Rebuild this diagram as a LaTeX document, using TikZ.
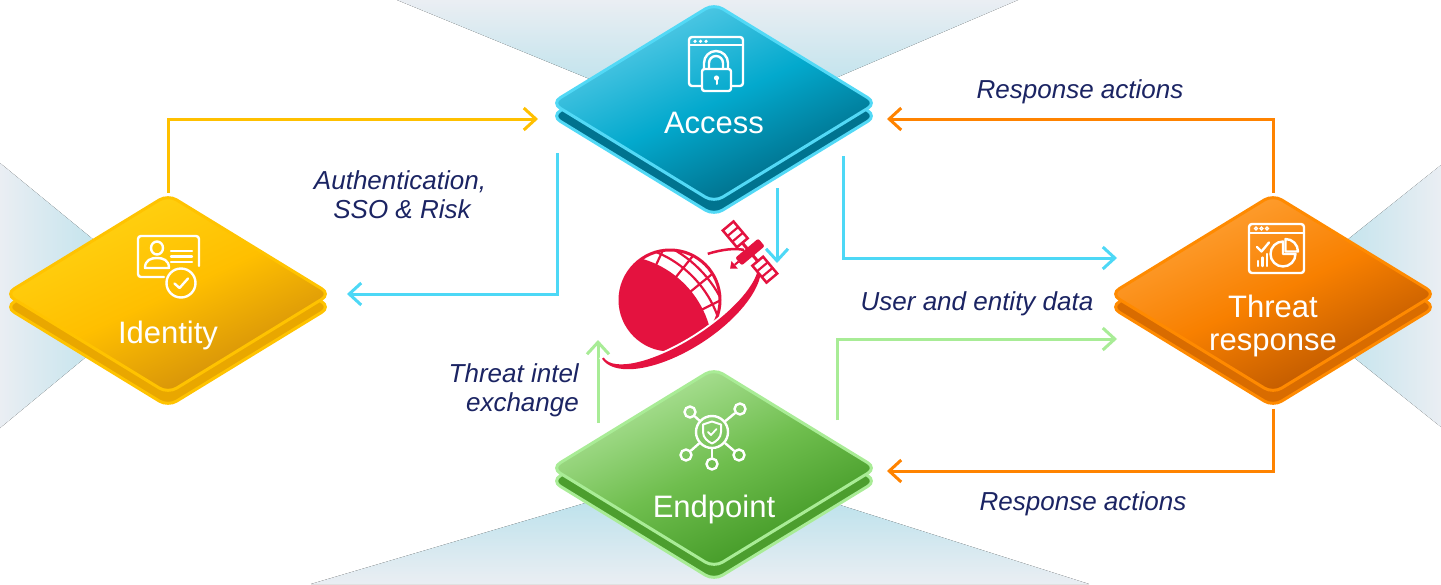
\documentclass[tikz,border=0pt]{standalone}
\usepackage{fontspec}
\setmainfont{Liberation Sans}
\usetikzlibrary{shapes.geometric,arrows.meta,calc}

\definecolor{navy}{HTML}{1B2463}
\definecolor{gold}{HTML}{FFC000}
\definecolor{sky}{HTML}{4DD8F6}
\definecolor{tang}{HTML}{FF8300}
\definecolor{mint}{HTML}{A8EC96}
\definecolor{logored}{HTML}{E4123F}
\definecolor{hazeA}{HTML}{EAEEF3}
\definecolor{hazeB}{HTML}{AADDE9}
% tile palettes: light, mid, dark, lower layer, edge
\definecolor{accA}{HTML}{62CFEA}\definecolor{accB}{HTML}{03A9CD}\definecolor{accC}{HTML}{00627C}
\definecolor{accBase}{HTML}{00738F}\definecolor{accEdge}{HTML}{52D9F6}
\definecolor{idnA}{HTML}{FFD414}\definecolor{idnB}{HTML}{FFBF00}\definecolor{idnC}{HTML}{CC880C}
\definecolor{idnBase}{HTML}{E9A700}\definecolor{idnEdge}{HTML}{FFC300}
\definecolor{thrA}{HTML}{FFA43A}\definecolor{thrB}{HTML}{F88000}\definecolor{thrC}{HTML}{B45200}
\definecolor{thrBase}{HTML}{D96C00}\definecolor{thrEdge}{HTML}{FF8A00}
\definecolor{endA}{HTML}{B6E7A2}\definecolor{endB}{HTML}{6FBE4E}\definecolor{endC}{HTML}{3A921E}
\definecolor{endBase}{HTML}{4C9E2E}\definecolor{endEdge}{HTML}{A9EC96}

\pgfdeclarelayer{backdrop}
\pgfdeclarelayer{wires}
\pgfsetlayers{backdrop,wires,main}

\tikzset{
  flowline/.style={line width=3pt, -{Straight Barb[length=12pt,width=22pt]}},
  tagtext/.style={font=\fontsize{26}{31}\selectfont\itshape, text=navy, inner sep=0pt},
  tiletext/.style={font=\fontsize{31}{35}\selectfont, text=white, inner sep=0pt},
  tile/.style={diamond, minimum width=326pt, minimum height=200pt, inner sep=0pt,
    rounded corners=10pt, line width=3pt},
  glyph/.style={draw=white, line width=2.4pt, line cap=round, line join=round},
  hubdot/.style={circle, draw=white, line width=2.4pt, inner sep=0pt, minimum size=11pt},
  ringband/.style={x radius=#1},
}

\begin{document}
\begin{tikzpicture}[x=1pt,y=-1pt]
\useasboundingbox (0,0) rectangle (1441,584);

% ---------------- backdrop wedges ----------------
\begin{pgfonlayer}{backdrop}
  \fill[white] (0,0) rectangle (1441,584);
  \fill[top color=hazeA, bottom color=hazeB] (397,0) -- (1018,0) -- (714,130) -- cycle;
  \fill[top color=hazeB, bottom color=hazeA] (311,584) -- (1089,584) -- (714,465) -- cycle;
  \fill[left color=hazeA, right color=hazeB] (0,163) -- (161,295) -- (0,428) -- cycle;
  \fill[left color=hazeB, right color=hazeA] (1441,165) -- (1277,296) -- (1441,427) -- cycle;
\end{pgfonlayer}

% ---------------- tiles ----------------
\node[tile, fill=accBase, draw=accEdge] (acc2) at (714,116) {};
\node[tile, draw=accEdge, top color=accA, bottom color=accC, middle color=accB, shading angle=25] (acc) at (714,103) {};

\node[tile, fill=idnBase, draw=idnEdge] (idn2) at (168,307) {};
\node[tile, draw=idnEdge, top color=idnA, bottom color=idnC, middle color=idnB, shading angle=25] (idn) at (168,294) {};

\node[tile, fill=thrBase, draw=thrEdge] (thr2) at (1273,307) {};
\node[tile, draw=thrEdge, top color=thrA, bottom color=thrC, middle color=thrB, shading angle=25] (thr) at (1273,294) {};

\node[tile, fill=endBase, draw=endEdge] (endp2) at (714,481) {};
\node[tile, draw=endEdge, top color=endA, bottom color=endC, middle color=endB, shading angle=25] (endp) at (714,468) {};

% tile captions
\node[tiletext, anchor=base] (accl) at (714,133) {Access};
\node[tiletext, anchor=base] (idnl) at (168,343) {Identity};
\node[tiletext, anchor=base] (thrl) at (1273,317) {Threat};
\node[tiletext, anchor=base] (thrl2) at (1273,350) {response};
\node[tiletext, anchor=base] (endl) at (714,517) {Endpoint};

% ---------------- tile glyphs ----------------
% browser window with padlock
\draw[glyph, rounded corners=3pt] (702,86) -- (689,86) -- (689,37) -- (743,37) -- (743,86) -- (731,86);
\draw[glyph] (689,45) -- (743,45);
\fill[white] (695,41.3) circle[radius=1.8] (700.5,41.3) circle[radius=1.8] (706,41.3) circle[radius=1.8];
\draw[glyph, rounded corners=2.5pt] (702,69) rectangle (731,91);
\draw[glyph] (704,69) -- (704,63) arc[start angle=180, end angle=360, radius=12] -- (728,69);
\draw[glyph] (709,69) -- (709,63) arc[start angle=180, end angle=360, radius=7] -- (723,69);
\fill[white] (716.5,78) circle[radius=2.6];
\draw[glyph, line width=2pt] (716.5,78) -- (716.5,84);

% identity card with check badge
\draw[glyph, rounded corners=3pt] (164,277) -- (138,277) -- (138,236) -- (199,236) -- (199,266);
\draw[glyph] (157,248) ellipse[x radius=6, y radius=6.5];
\draw[glyph] (145,268) .. controls (145,260) and (151,258) .. (157,258) .. controls (163,258) and (169,260) .. (169,268) -- cycle;
\draw[glyph] (171,251) -- (192,251) (171,256.5) -- (192,256.5) (171,262) -- (192,262);
\draw[glyph] (181,283) circle[radius=14.5];
\draw[glyph] (174.5,283.5) -- (179.5,288) -- (188,278.5);

% dashboard window
\draw[glyph, rounded corners=3pt] (1249,224) rectangle (1304,273);
\draw[glyph] (1249,233) -- (1304,233);
\draw[white, line width=1.2pt] (1256,228.5) circle[radius=1.5] (1261.5,228.5) circle[radius=1.5] (1267,228.5) circle[radius=1.5];
\draw[glyph] (1257,247) -- (1261.5,251.5) -- (1269,242.5);
\draw[glyph] (1258,266) -- (1258,261) (1262.5,266) -- (1262.5,257.5) (1267,266) -- (1267,254);
\draw[glyph] (1283,254) -- (1283,241.5) arc[start angle=270, end angle=0, radius=12.5] -- cycle;
\draw[glyph] (1285.5,251.5) -- (1285.5,239) arc[start angle=270, end angle=360, radius=12.5] -- cycle;

% shield hub with links
\node[circle, draw=white, line width=2.4pt, inner sep=0pt, minimum size=32pt] (hub) at (712,432) {};
\node[hubdot] (hn1) at (690,412) {};
\node[hubdot] (hn2) at (740,409) {};
\node[hubdot] (hn3) at (686,455) {};
\node[hubdot] (hn4) at (739,455) {};
\node[hubdot] (hn5) at (712,464) {};
\foreach \n in {hn1,hn2,hn3,hn4,hn5} \draw[glyph] (hub) -- (\n);
\draw[glyph, line width=2pt] (703,424.5) -- (712,421.5) -- (721,424.5) -- (721,432)
  .. controls (721,438) and (716,441.5) .. (712,443.5) .. controls (708,441.5) and (703,438) .. (703,432) -- cycle;
\draw[glyph, line width=1.8pt] (708,432) -- (711,435) -- (716.5,429);

% ---------------- globe and satellite emblem ----------------
% far side of the orbit
\begin{scope}[shift={(680,308)}, rotate=33]
  \draw[logored, line width=2.5pt] (305:92 and 37) arc[start angle=305, end angle=338, x radius=92, y radius=37];
\end{scope}
% globe: solid hemisphere with a gridded cap
\begin{scope}
  \clip (670,300) circle[radius=50];
  \fill[white] (670,300) circle[radius=50];
  \draw[logored, line width=2.2pt] (615,353) circle[radius=109] (615,353) circle[radius=119];
  \draw[logored, line width=2.2pt] (615,353) -- (640.9,216.6) (615,353) -- (673.7,227.1)
    (615,353) -- (703.8,242.3) (615,353) -- (726.4,262.4) (615,353) -- (741.9,289.6);
  \fill[logored] (615,353) circle[radius=98];
\end{scope}
\draw[logored, line width=3pt] (670,300) circle[radius=50];
% near side of the orbit, tapered band with a white gap
\begin{scope}[shift={(680,308)}, rotate=33]
  \path[fill=logored, draw=white, line width=4pt]
    (12:93 and 41) arc[start angle=12, end angle=180, x radius=93, y radius=41]
    -- (180:91 and 32) arc[start angle=180, end angle=12, x radius=91, y radius=32] -- cycle;
  \fill[logored]
    (12:93 and 41) arc[start angle=12, end angle=180, x radius=93, y radius=41]
    -- (180:91 and 32) arc[start angle=180, end angle=12, x radius=91, y radius=32] -- cycle;
\end{scope}
% satellite
\begin{scope}[shift={(750,252)}, rotate=40]
  \draw[logored, line width=3pt] (0,-11) -- (0,11);
  \fill[logored, rounded corners=2pt] (-15,-5) rectangle (15,5);
  \draw[logored, line width=2.5pt, fill=white] (-7,-34) rectangle (7,-12);
  \draw[logored, line width=2.2pt] (-7,-26.7) -- (7,-26.7) (-7,-19.3) -- (7,-19.3);
  \draw[logored, line width=2.5pt, fill=white] (-7,12) rectangle (7,34);
  \draw[logored, line width=2.2pt] (-7,19.3) -- (7,19.3) (-7,26.7) -- (7,26.7);
  \draw[logored, line width=2pt] (-15,0) -- (-20,0);
  \fill[logored] (-20,-5) -- (-26,0) -- (-20,5) -- cycle;
\end{scope}

% ---------------- connectors ----------------
\coordinate (toAccL)  at (538,119);
\coordinate (accOutL) at (557,153);
\coordinate (toIdn)   at (347,294);
\coordinate (accOutM) at (777,188);
\coordinate (toLogo)  at (777,263);
\coordinate (accOutR) at (843,156);
\coordinate (toThrU)  at (1117,258);
\coordinate (toAccR)  at (887,119);
\coordinate (toEndR)  at (887,471);
\coordinate (endOutR) at (837,420);
\coordinate (toThrL)  at (1117,339);
\coordinate (endOutL) at (598,423);
\coordinate (toLogoB) at (598,340);

\begin{pgfonlayer}{wires}
  \draw[flowline, draw=gold] (idn.north) |- (toAccL);
  \draw[flowline, draw=sky] (accOutL) |- (toIdn);
  \draw[flowline, draw=sky] (accOutM) -- (toLogo);
  \draw[flowline, draw=sky] (accOutR) |- (toThrU);
  \draw[flowline, draw=tang] (thr.north) |- (toAccR);
  \draw[flowline, draw=tang] (thr2.south) |- (toEndR);
  \draw[flowline, draw=mint] (endOutR) |- (toThrL);
  \draw[flowline, draw=mint] (endOutL) -- (toLogoB);
\end{pgfonlayer}

% ---------------- connector captions ----------------
\node[tagtext, anchor=base] (t1a) at (400,189) {Authentication,};
\node[tagtext, anchor=base] (t1b) at (402,218) {SSO \& Risk};
\node[tagtext, anchor=base] (t2) at (1080,98) {Response actions};
\node[tagtext, anchor=base] (t3) at (977,310) {User and entity data};
\node[tagtext, anchor=base] (t4) at (1083,510) {Response actions};
\node[tagtext, anchor=base east] (t5a) at (579,382) {Threat intel};
\node[tagtext, anchor=base east] (t5b) at (579,411) {exchange};

\end{tikzpicture}
\end{document}
